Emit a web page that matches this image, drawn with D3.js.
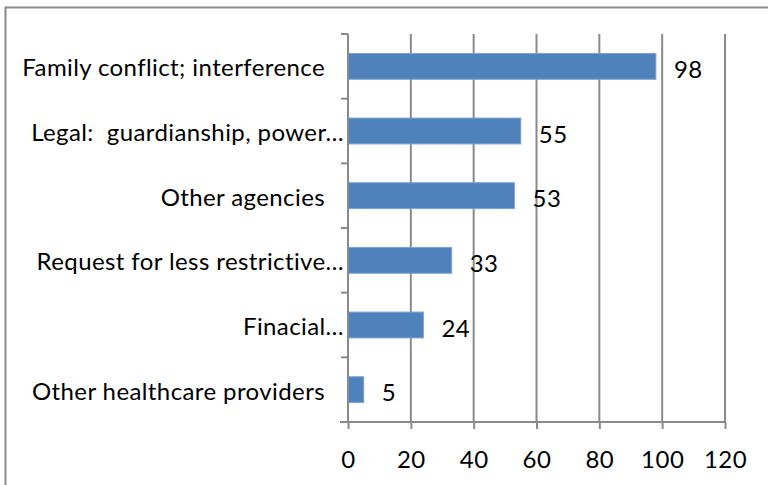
<!DOCTYPE html>
<html>
<head>
<meta charset="utf-8">
<script src="https://cdn.jsdelivr.net/npm/d3@7"></script>
<style>
  body { margin: 0; background: #fff; }
  text { font-family: Lato, "Open Sans", sans-serif; fill: #000; white-space: pre; }
</style>
</head>
<body>
<div id="container"></div>
<script>
const categories = [
  "Family conflict; interference",
  "Legal:  guardianship, power\u2026",
  "Other agencies",
  "Request for less restrictive\u2026",
  "Finacial\u2026",
  "Other healthcare providers"
];
const values = [98, 55, 53, 33, 24, 5];
const xTicks = [0, 20, 40, 60, 80, 100, 120];

const w = 768, h = 485;
const plotLeft = 348, plotRight = 725, plotTop = 34, plotBottom = 422;
const fontSize = 24;

const svg = d3.select("#container").append("svg")
  .attr("width", w).attr("height", h);

// outer frame
svg.append("rect")
  .attr("x", 5.5).attr("y", 7.5)
  .attr("width", 800).attr("height", 600)
  .attr("fill", "none").attr("stroke", "#8a8a8a").attr("stroke-width", 2);

const x = d3.scaleLinear().domain([0, 120]).range([plotLeft, plotRight]);
const y = d3.scaleBand().domain(categories).range([plotTop, plotBottom]).paddingInner(0.6).paddingOuter(0.3);

// gridlines
svg.selectAll("line.grid").data(xTicks.slice(1)).enter().append("line")
  .attr("class", "grid")
  .attr("x1", d => x(d)).attr("x2", d => x(d))
  .attr("y1", plotTop).attr("y2", plotBottom)
  .attr("stroke", "#8a8a8a").attr("stroke-width", 2);

// bars
svg.selectAll("rect.bar").data(values).enter().append("rect")
  .attr("class", "bar")
  .attr("x", x(0))
  .attr("y", (d, i) => y(categories[i]))
  .attr("width", d => x(d) - x(0))
  .attr("height", y.bandwidth())
  .attr("fill", "#4f81bd")
  .attr("stroke", "#7ea3d2").attr("stroke-width", 1);

// value labels
svg.selectAll("text.val").data(values).enter().append("text")
  .attr("class", "val")
  .attr("x", d => x(d) + 18)
  .attr("y", (d, i) => y(categories[i]) + y.bandwidth() / 2 + 11.5)
  .attr("font-size", fontSize)
  .attr("letter-spacing", 0.5)
  .text(d => d);

// x axis
const xAxis = d3.axisBottom(x).tickValues(xTicks).tickSize(7).tickPadding(22).tickSizeOuter(0);
const gx = svg.append("g").attr("transform", "translate(0," + plotBottom + ")").call(xAxis);
gx.select(".domain").attr("d", "M" + (plotLeft - 8) + ",0H" + plotRight).attr("stroke", "#8a8a8a").attr("stroke-width", 2);
gx.selectAll(".tick line").attr("stroke", "#8a8a8a").attr("stroke-width", 2);
gx.selectAll(".tick text").attr("font-size", fontSize).attr("font-family", "Lato").attr("fill", "#000")
  .attr("letter-spacing", 0.5);

// category axis
const bounds = d3.range(categories.length + 1).map(i => plotTop + i * (plotBottom - plotTop) / categories.length);
svg.append("line")
  .attr("x1", plotLeft).attr("x2", plotLeft).attr("y1", plotTop).attr("y2", plotBottom)
  .attr("stroke", "#8a8a8a").attr("stroke-width", 2);
svg.selectAll("line.ytick").data(bounds).enter().append("line")
  .attr("class", "ytick")
  .attr("x1", plotLeft - 7).attr("x2", plotLeft).attr("y1", d => d).attr("y2", d => d)
  .attr("stroke", "#8a8a8a").attr("stroke-width", 2);

svg.selectAll("text.cat").data(categories).enter().append("text")
  .attr("class", "cat")
  .attr("text-anchor", "end")
  .attr("x", d => d.endsWith("\u2026") ? 344 : 325)
  .attr("y", d => y(d) + y.bandwidth() / 2 + 10)
  .attr("font-size", fontSize)
  .attr("letter-spacing", 0.4)
  .text(d => d);
</script>
</body>
</html>
